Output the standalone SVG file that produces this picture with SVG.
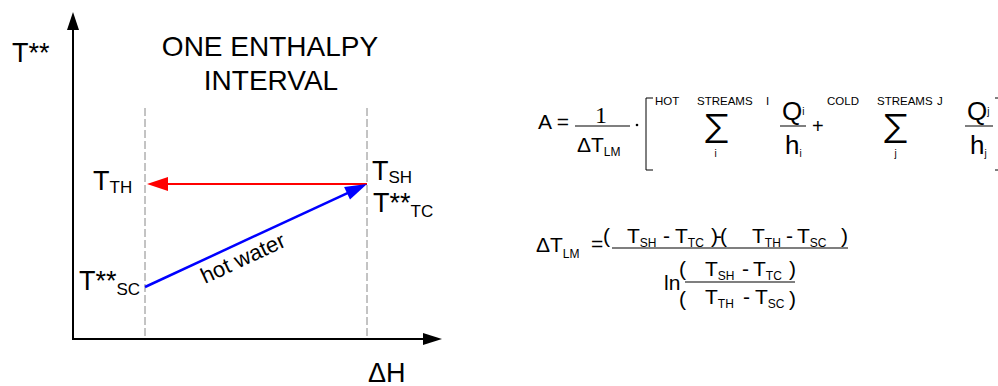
<svg xmlns="http://www.w3.org/2000/svg" width="998" height="386" viewBox="0 0 998 386">
<style>
text{font-family:"Liberation Sans",Arial,sans-serif;fill:#000}
.lbl{font-size:27px}
.ttl{font-size:28px}
.sub{font-size:17px}
.f{font-size:21px}
.fs{font-size:12px}
.tiny{font-size:11.5px}
.big{font-size:26px}
.idx{font-size:10px}
.sig{font-size:40px;font-family:Inter,"Liberation Sans",sans-serif;font-weight:300}
.fl{stroke:#555;stroke-width:1.5;fill:none}
.br{stroke:#000;stroke-width:1;fill:none}
.dash{stroke:#888;stroke-width:1;stroke-dasharray:8 3;fill:none}
.axis{stroke:#000;stroke-width:2;fill:none}
</style>
<g id="axes">
<line class="axis" x1="73" y1="340" x2="73" y2="28"/>
<polygon points="73,12 67,30 79,30" fill="#000"/>
<line class="axis" x1="72" y1="339" x2="425" y2="339"/>
<polygon points="442,339 423,333 423,345" fill="#000"/>
<text class="lbl" x="12" y="62">T**</text>
<text class="lbl" x="368" y="382">ΔH</text>
</g>
<g id="interval">
<line class="dash" x1="145" y1="108" x2="145" y2="339"/>
<line class="dash" x1="367" y1="108" x2="367" y2="339"/>
<text class="ttl" x="270" y="56" text-anchor="middle">ONE ENTHALPY</text>
<text class="ttl" x="271" y="90" text-anchor="middle">INTERVAL</text>
</g>
<g id="labels">
<text class="lbl" x="93" y="190">T<tspan class="sub" dy="3">TH</tspan></text>
<text class="lbl" x="372" y="180">T<tspan class="sub" dy="3">SH</tspan></text>
<text class="lbl" x="373" y="212">T**<tspan class="sub" dy="5">TC</tspan></text>
<text class="lbl" x="79" y="290">T**<tspan class="sub" dy="5">SC</tspan></text>
</g>
<g id="connectors">
<line x1="367" y1="184" x2="166" y2="184" stroke="#f00" stroke-width="2"/>
<polygon points="147,184 168,177 168,191" fill="#f00"/>
<line x1="145" y1="287" x2="348" y2="192.8" stroke="#00f" stroke-width="2.5"/>
<polygon points="367,184 350,199.6 344.1,186.9" fill="#00f"/>
<text x="246" y="265" transform="rotate(-24.9 246 265)" text-anchor="middle" font-size="22">hot water</text>
</g>
<g id="formula-area">
<text class="f" x="538" y="129">A =</text>
<text x="601" y="123" text-anchor="middle" font-size="24" style="font-family:'Liberation Serif',serif">1</text>
<line class="fl" x1="575" y1="126" x2="630" y2="126"/>
<text class="f" x="577" y="152">ΔT<tspan class="fs" dy="4">LM</tspan></text>
<circle cx="637" cy="125" r="1.3" fill="#000"/>
<path class="br" d="M653,98 H646 V170 H653"/>
<text class="tiny" x="655" y="105">HOT</text>
<text class="tiny" x="697" y="105">STREAMS</text>
<text class="tiny" x="766" y="105">I</text>
<text class="sig" x="716.5" y="143" text-anchor="middle">Σ</text>
<text class="idx" x="715.5" y="157" text-anchor="middle">i</text>
<text class="big" x="782" y="120">Q<tspan class="idx" dy="-5">i</tspan></text>
<line class="fl" x1="780" y1="126" x2="806" y2="126"/>
<text class="big" x="785" y="154">h<tspan class="idx" dy="3">i</tspan></text>
<text x="812" y="133" font-size="20">+</text>
<text class="tiny" x="827" y="105">COLD</text>
<text class="tiny" x="877" y="105">STREAMS</text>
<text class="tiny" x="937" y="105">J</text>
<text class="sig" x="895.5" y="143" text-anchor="middle">Σ</text>
<text class="idx" x="895.5" y="157" text-anchor="middle">j</text>
<text class="big" x="967" y="120">Q<tspan class="idx" dy="-5">j</tspan></text>
<line class="fl" x1="965" y1="126" x2="993" y2="126"/>
<text class="big" x="970" y="154">h<tspan class="idx" dy="3">j</tspan></text>
<path class="br" d="M995,98 H999 V170 H995"/>
</g>
<g id="formula-lm">
<text class="f" x="536" y="252">ΔT<tspan class="fs" dy="6">LM</tspan></text>
<text class="f" x="591" y="251">=</text>
<text class="f" x="603" y="243">(</text>
<text class="f" x="627" y="243">T<tspan class="fs" dy="4">SH</tspan></text>
<text class="f" x="663" y="243">-</text>
<text class="f" x="675" y="243">T<tspan class="fs" dy="4">TC</tspan></text>
<text class="f" x="711" y="243">)</text>
<text class="f" x="715" y="243">-</text>
<text class="f" x="720" y="243">(</text>
<text class="f" x="752" y="243">T<tspan class="fs" dy="4">TH</tspan></text>
<text class="f" x="786" y="243">-</text>
<text class="f" x="797" y="243">T<tspan class="fs" dy="4">SC</tspan></text>
<text class="f" x="841" y="243">)</text>
<line class="fl" x1="612" y1="248" x2="848" y2="248"/>
<text class="f" x="664" y="290">ln</text>
<text class="f" x="679" y="276">(</text>
<text class="f" x="705" y="276">T<tspan class="fs" dy="4">SH</tspan></text>
<text class="f" x="742" y="276">-</text>
<text class="f" x="753" y="276">T<tspan class="fs" dy="4">TC</tspan></text>
<text class="f" x="789" y="276">)</text>
<line class="fl" x1="685" y1="282" x2="795" y2="282"/>
<text class="f" x="679" y="306">(</text>
<text class="f" x="705" y="304">T<tspan class="fs" dy="4">TH</tspan></text>
<text class="f" x="743" y="304">-</text>
<text class="f" x="755" y="304">T<tspan class="fs" dy="4">SC</tspan></text>
<text class="f" x="789" y="306">)</text>
</g>
</svg>
